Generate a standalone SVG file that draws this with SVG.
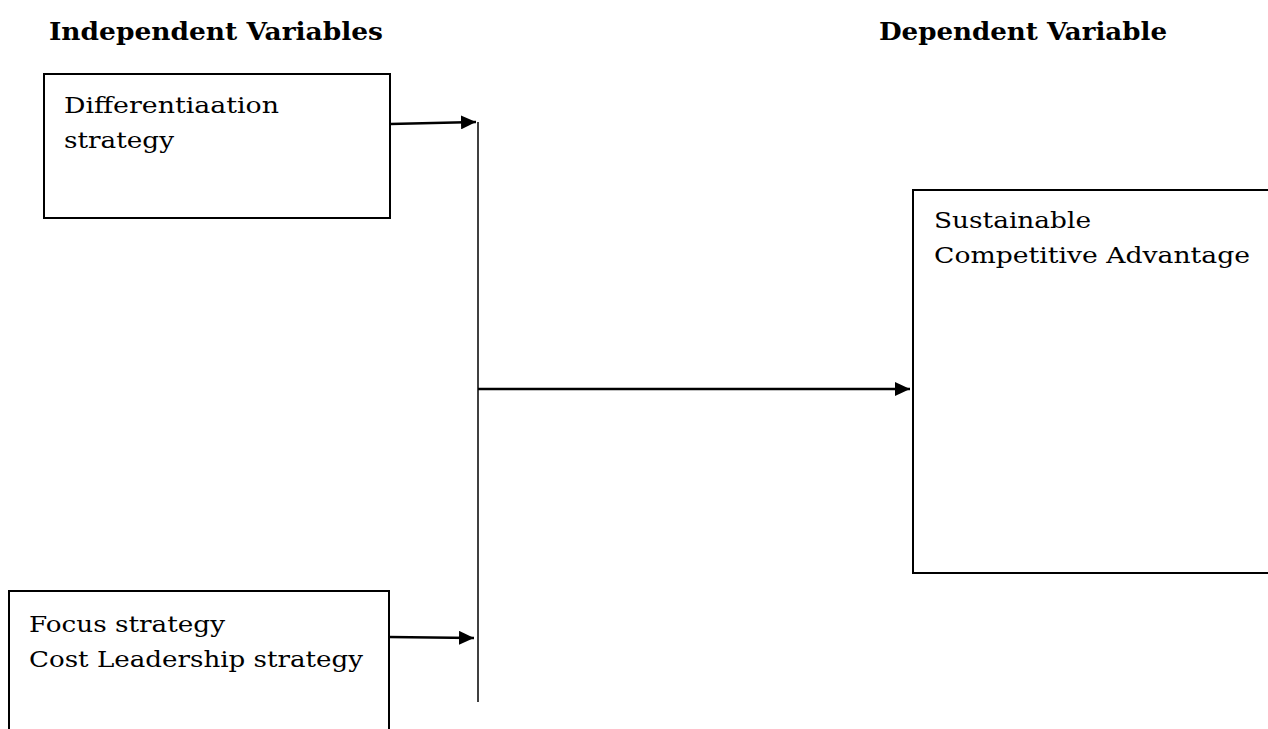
<svg xmlns="http://www.w3.org/2000/svg" width="1268" height="729" viewBox="0 0 1268 729">
<style>
.t{font-family:"DejaVu Serif","Liberation Serif",serif;font-size:23px;fill:#000}
.h{font-family:"DejaVu Serif","Liberation Serif",serif;font-size:24px;font-weight:bold;fill:#000}
.box{fill:#fff;stroke:#000;stroke-width:2}
.c{stroke:#000;stroke-width:2.5;fill:none}
.v{stroke:#000;stroke-width:1.5;fill:none}
</style>
<defs>
<marker id="arr" markerWidth="16" markerHeight="14" refX="15" refY="7" orient="auto" markerUnits="userSpaceOnUse">
<path d="M0,0 L15,7 L0,14 Z" fill="#000"/>
</marker>
</defs>
<rect width="1268" height="729" fill="#fff"/>
<text class="h" x="49" y="40" textLength="334" lengthAdjust="spacingAndGlyphs">Independent Variables</text>
<text class="h" x="879" y="40" textLength="288" lengthAdjust="spacingAndGlyphs">Dependent Variable</text>
<g id="n1">
<rect class="box" x="44" y="74" width="346" height="144"/>
<text class="t" x="64" y="113" textLength="215" lengthAdjust="spacingAndGlyphs">Differentiaation</text>
<text class="t" x="64" y="148" textLength="110" lengthAdjust="spacingAndGlyphs">strategy</text>
</g>
<g id="n2">
<rect class="box" x="9" y="591" width="380" height="150"/>
<text class="t" x="29" y="632" textLength="196" lengthAdjust="spacingAndGlyphs">Focus strategy</text>
<text class="t" x="29" y="667" textLength="334" lengthAdjust="spacingAndGlyphs">Cost Leadership strategy</text>
</g>
<g id="n3">
<rect class="box" x="913" y="190" width="370" height="383"/>
<text class="t" x="934" y="228" textLength="157" lengthAdjust="spacingAndGlyphs">Sustainable</text>
<text class="t" x="934" y="263" textLength="316" lengthAdjust="spacingAndGlyphs">Competitive Advantage</text>
</g>
<g id="connectors">
<line class="v" x1="478" y1="122" x2="478" y2="702"/>
<line class="c" x1="390" y1="124" x2="476" y2="122" marker-end="url(#arr)"/>
<line class="c" x1="389" y1="637" x2="474" y2="638" marker-end="url(#arr)"/>
<line class="c" x1="478" y1="389" x2="910" y2="389" marker-end="url(#arr)"/>
</g>
</svg>
